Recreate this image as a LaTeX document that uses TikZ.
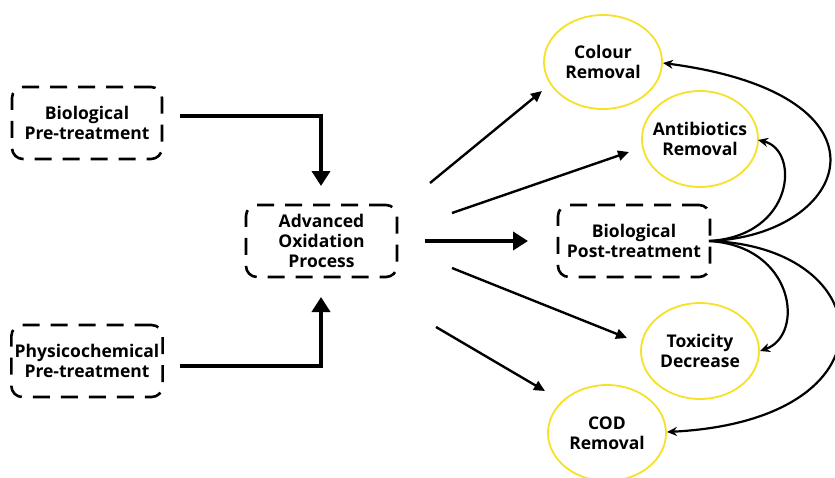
\documentclass[tikz,border=0pt]{standalone}
\usepackage{fontspec}
\setmainfont{Open Sans}
\usetikzlibrary{arrows.meta,shapes.geometric}
\definecolor{ringyellow}{RGB}{245,225,40}
\begin{document}
\begin{tikzpicture}[x=1pt,y=-1pt,
  txt/.style={align=center, font=\fontsize{17.5}{20}\selectfont\bfseries},
  box/.style={txt, draw, line width=2.6pt, dash pattern=on 17pt off 11pt, rounded corners=11pt,
    minimum width=150pt, minimum height=72pt},
  ell/.style={draw=ringyellow, line width=1.8pt},
  thick arr/.style={line width=4.5pt, -{Triangle[length=15pt,width=18pt]}},
  thin arr/.style={line width=2.4pt, -{Triangle[length=11pt,width=10pt]}},
  curve arr/.style={line width=2.2pt, -{Stealth[length=10pt,width=9pt]}}]
\useasboundingbox (0,0) rectangle (835,477);
\node[box] (bpre) at (87,123) {Biological\\Pre-treatment};
\node[box] (ppre) at (87,361) {Physicochemical\\Pre-treatment};
\node[box, minimum width=151pt] (aop) at (321.5,241) {Advanced\\Oxidation\\Process};
\node[box, minimum width=152pt] (bpost) at (634,241) {Biological\\Post-treatment};
\draw[ell] (603,62) ellipse [x radius=59, y radius=47];
\node[txt] (col) at (603,62) {Colour\\Removal};
\draw[ell] (700,139) ellipse [x radius=58, y radius=48];
\node[txt] (ant) at (700,139) {Antibiotics\\Removal};
\draw[ell] (700,351) ellipse [x radius=59, y radius=48];
\node[txt] (tox) at (700,351) {Toxicity\\Decrease};
\draw[ell] (607,433) ellipse [x radius=59, y radius=48];
\node[txt] (cod) at (607,433) {COD\\Removal};
\coordinate (e1) at (180,116);
\coordinate (e2) at (180,366);
\coordinate (a1) at (321,186);
\coordinate (a2) at (321,297);
\draw[thick arr] (e1) -| (a1);
\draw[thick arr] (e2) -| (a2);
\coordinate (m1) at (425,241);
\coordinate (m2) at (528,241);
\draw[thick arr] (m1) -- (m2);
\coordinate (s1) at (430,183); \coordinate (t1) at (542,91);
\coordinate (s2) at (452,213); \coordinate (t2) at (629,152);
\coordinate (s3) at (452,268); \coordinate (t3) at (627,338);
\coordinate (s4) at (436,327); \coordinate (t4) at (545,391);
\draw[thin arr] (s1) -- (t1);
\draw[thin arr] (s2) -- (t2);
\draw[thin arr] (s3) -- (t3);
\draw[thin arr] (s4) -- (t4);
\coordinate (o) at (709,241);
\draw[curve arr] (o) .. controls (850,236) and (905,95) .. (663,63);
\draw[curve arr] (o) .. controls (795,236) and (800,150) .. (758,140);
\draw[curve arr] (o) .. controls (795,246) and (805,335) .. (760,351);
\draw[curve arr] (o) .. controls (880,246) and (900,420) .. (667,432);
\end{tikzpicture}
\end{document}
